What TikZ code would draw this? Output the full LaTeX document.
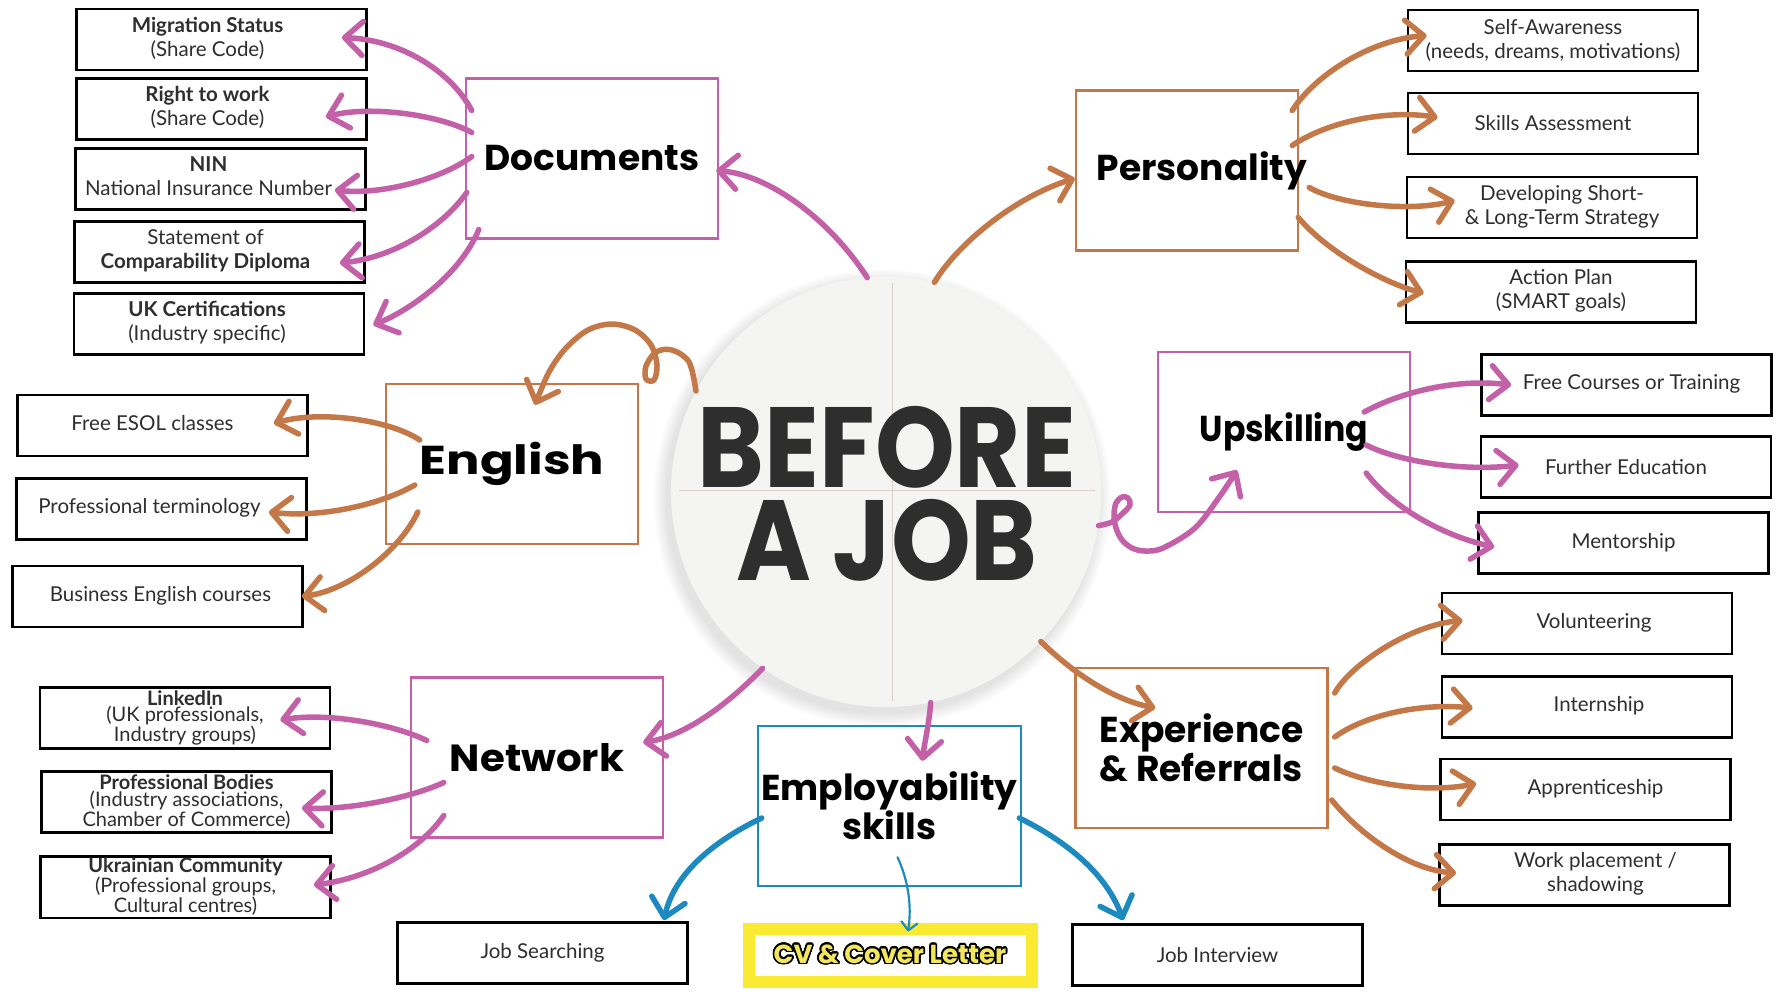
\documentclass[tikz,border=0pt]{standalone}
\usepackage{fontspec}
\setmainfont{Lato}
\newfontfamily\popfont{Poppins}
\usepackage{graphicx}
\usepackage{contour}
\usetikzlibrary{arrows.meta,calc}
\definecolor{pinkc}{HTML}{C460A8}
\definecolor{brownc}{HTML}{C47848}
\definecolor{bluec}{HTML}{1C8AC0}
\definecolor{yellowc}{HTML}{FAEB32}
\definecolor{cvyellow}{HTML}{F2E65A}
\definecolor{txt}{HTML}{2E2E2E}
\definecolor{circfill}{HTML}{F4F4F2}
\definecolor{crossc}{HTML}{DCCFC8}
\contourlength{1.6pt}
\contournumber{24}
\newcommand\shtext[2]{\hspace*{#1}\begin{tabular}{@{}c@{}}#2\end{tabular}}
\begin{document}
\begin{tikzpicture}[x=1pt,y=-1pt,
  leaf/.style={draw=black, line width=2.8pt, fill=white, align=center, text=txt,
    font=\fontsize{20.5}{24}\selectfont, minimum width=290pt, minimum height=61pt, inner sep=2pt},
  leafnet/.style={leaf, font=\fontsize{20}{16.5}\selectfont},
  cat/.style={line width=2.4pt, fill=white, minimum width=252pt, minimum height=160pt,
    font=\popfont\bfseries\fontsize{36}{33}\selectfont, text=black, align=center},
  arr/.style={line width=5.5pt, line cap=round, line join=round,
    -{Straight Barb[length=18pt,width=34pt,round]}},
  thinarr/.style={line width=2.2pt, line cap=round,
    -{Straight Barb[length=8pt,width=16pt,round]}}
]
\fill[white] (0,0) rectangle (1787,995);
\useasboundingbox (0,0) rectangle (1787,995);

% ---- central circle with soft shadow
\foreach \k in {1,...,14}
  \fill[black,opacity=0.009] (882,498) circle ({215+\k});
\node[circle, minimum size=430pt, inner sep=0pt, fill=circfill] (circ) at (886,492) {};
\draw[crossc, line width=0.8pt] ($(circ.west)+(8,-2)$) -- ($(circ.east)+(-6,-2)$);
\draw[crossc, line width=0.8pt] ($(circ.north)+(6,6)$) -- ($(circ.south)+(6,-6)$);
\node[anchor=north, text=txt, inner sep=0pt, align=center,
      font=\popfont\bfseries\fontsize{114}{93}\selectfont] (title) at (887,406)
      {\scalebox{0.89}[1]{BEFORE}\\\scalebox{0.89}[1]{A JOB}};

% ---- category boxes
\node[cat, draw=pinkc] (docs) at (592,158.5) {Documents};
\node[cat, draw=brownc, minimum width=222pt] (pers) at (1187,170.5) {\makebox[0pt][c]{\hspace*{30pt}Personality}};
\node[cat, draw=brownc] (eng) at (512,464) {\scalebox{1.38}[1.12]{English}};
\node[cat, draw=pinkc] (ups) at (1284,432) {\scalebox{0.92}[1]{Upskilling}};
\node[cat, draw=pinkc] (net) at (537,757.5) {\scalebox{1.12}[1.05]{Network}};
\node[cat, draw=bluec] (emp) at (889.5,806) {Employability\\skills};
\node[cat, draw=brownc] (exp) at (1201.5,748) {Experience\\\& Referrals};

% ---- leaf boxes: documents
\node[leaf] (mig) at (221.5,39.5) {\shtext{-28pt}{\textbf{Migration Status}\\(Share Code)}};
\node[leaf] (rtw) at (221.5,109) {\shtext{-28pt}{\textbf{Right to work}\\(Share Code)}};
\node[leaf] (nin) at (220.5,179) {\shtext{-24pt}{\textbf{NIN}\\National Insurance Number}};
\node[leaf] (soc) at (219.5,252) {\shtext{-28pt}{Statement of\\\textbf{Comparability Diploma}}};
\node[leaf] (ukc) at (219,324) {\shtext{-24pt}{\textbf{UK Certifications}\\(Industry specific)}};
% personality
\node[leaf] (self) at (1553,40.5) {Self-Awareness\\(needs, dreams, motivations)};
\node[leaf] (skills) at (1553,123.5) {Skills Assessment};
\node[leaf] (dev) at (1552,207.5) {\shtext{20pt}{Developing Short-\\\& Long-Term Strategy}};
\node[leaf] (action) at (1551,292) {\shtext{20pt}{Action Plan\\(SMART goals)}};
% english
\node[leaf] (esol) at (162.5,425.5) {\shtext{-20pt}{Free ESOL classes}};
\node[leaf] (term) at (161.5,509) {\shtext{-24pt}{Professional terminology}};
\node[leaf] (bus) at (157.5,596.5) {\shtext{6pt}{Business English courses}};
% upskilling
\node[leaf] (free) at (1626.5,385) {\shtext{10pt}{Free Courses or Training}};
\node[leaf] (further) at (1626,467) {Further Education};
\node[leaf] (mentor) at (1623.5,543) {Mentorship};
% network
\node[leafnet] (linkedin) at (185,718) {\textbf{LinkedIn}\\(UK professionals,\\Industry groups)};
\node[leafnet] (bodies) at (186.5,802) {\textbf{Professional Bodies}\\(Industry associations,\\Chamber of Commerce)};
\node[leafnet] (ukr) at (185.5,887) {\textbf{Ukrainian Community}\\(Professional groups,\\Cultural centres)};
% experience
\node[leaf] (vol) at (1587,623.5) {\shtext{14pt}{Volunteering}};
\node[leaf] (intern) at (1587,707) {\shtext{24pt}{Internship}};
\node[leaf] (appr) at (1585.5,789.5) {\shtext{20pt}{Apprenticeship}};
\node[leaf] (work) at (1584.5,875) {\shtext{22pt}{Work placement /\\shadowing}};
% employability
\node[leaf] (jobsearch) at (542.5,953) {Job Searching};
\node[leaf] (interview) at (1217.5,955) {Job Interview};
\node[draw=yellowc, line width=12pt, fill=white, minimum width=283pt, minimum height=53pt,
      font=\popfont\bfseries\fontsize{26}{26}\selectfont] (cv) at (890,955)
      {\contour{black}{\textcolor{cvyellow}{CV \& Cover Letter}}};

% ---- connectors: centre to categories
\draw[arr, pinkc] (circ.95) .. controls (830,220) and (770,175) .. ($(docs.east)+(-3,12)$);
\draw[arr, brownc] (circ.77) .. controls (960,240) and (1020,195) .. ($(pers.west)+(0,8)$);
\coordinate (engtip) at ($(eng.north)+(23,22)$);
\draw[arr, brownc] plot[smooth, tension=0.55] coordinates {(circ.152) (689,362) (672,350) (656,352) (646,366) (646,379) (654,380) (657,365) (651,345) (635,330) (612,324) (588,330) (566,348) (549,372) (engtip)};
\coordinate (upstip) at ($(ups.south)+(-47,-43)$);
\draw[arr, pinkc] plot[smooth, tension=0.55] coordinates {(circ.-9) (1112,522) (1123,513) (1130,505) (1128,498) (1122,497) (1116,503) (1114,515) (1116,528) (1122,540) (1132,548) (1145,551) (1163,548) (1195,528) (1220,496) (upstip)};
\draw[arr, pinkc] (circ.235) .. controls (735,697) and (690,735) .. ($(net.east)+(-21,-15)$);
\draw[arr, pinkc] (circ.-78) .. controls (929,725) and (924,745) .. ($(emp.north)+(33,36)$);
\draw[arr, brownc] (circ.-44) .. controls (1075,675) and (1115,700) .. ($(exp.west)+(81,-40)$);

% ---- documents
\draw[arr, pinkc] ($(docs.west)+(7,-48)$) .. controls (450,70) and (400,40) .. ($(mig.east)+(-26,-2)$);
\draw[arr, pinkc] ($(docs.west)+(7,-26)$) .. controls (440,115) and (370,105) .. ($(rtw.east)+(-42,8)$);
\draw[arr, pinkc] ($(docs.west)+(7,-2)$) .. controls (440,180) and (380,195) .. ($(nin.east)+(-32,11)$);
\draw[arr, pinkc] ($(docs.west)+(2,34)$) .. controls (440,230) and (390,258) .. ($(soc.east)+(-26,11)$);
\draw[arr, pinkc] ($(docs.west)+(14,71)$) .. controls (460,275) and (410,310) .. ($(ukc.east)+(8,1)$);
% ---- personality
\draw[arr, brownc] ($(pers.east)+(-7,-60)$) .. controls (1315,75) and (1370,40) .. ($(self.west)+(20,-5)$);
\draw[arr, brownc] ($(pers.east)+(-7,-25)$) .. controls (1330,120) and (1390,110) .. ($(skills.west)+(31,-6)$);
\draw[arr, brownc] ($(pers.east)+(10,17)$) .. controls (1340,205) and (1410,212) .. ($(dev.west)+(49,-7)$);
\draw[arr, brownc] ($(pers.east)+(-1,47)$) .. controls (1330,255) and (1390,285) .. ($(action.west)+(19,1)$);
% ---- english
\draw[arr, brownc] ($(eng.west)+(35,-24)$) .. controls (390,420) and (320,410) .. ($(esol.east)+(-35,-2)$);
\draw[arr, brownc] ($(eng.west)+(30,21)$) .. controls (380,505) and (320,518) .. ($(term.east)+(-39,3)$);
\draw[arr, brownc] ($(eng.west)+(33,48)$) .. controls (400,550) and (350,590) .. ($(bus.east)+(-2,0)$);
% ---- upskilling
\draw[arr, pinkc] ($(ups.east)+(-47,-20)$) .. controls (1395,395) and (1450,378) .. ($(free.west)+(31,0)$);
\draw[arr, pinkc] ($(ups.east)+(-45,13)$) .. controls (1395,460) and (1460,472) .. ($(further.west)+(39,-2)$);
\draw[arr, pinkc] ($(ups.east)+(-45,41)$) .. controls (1390,505) and (1440,535) .. ($(mentor.west)+(17,4)$);
% ---- network
\draw[arr, pinkc] ($(net.west)+(17,-17)$) .. controls (395,725) and (330,712) .. ($(linkedin.east)+(-51,2)$);
\draw[arr, pinkc] ($(net.west)+(34,25)$) .. controls (410,798) and (350,810) .. ($(bodies.east)+(-31,6)$);
\draw[arr, pinkc] ($(net.west)+(34,58)$) .. controls (420,850) and (370,878) .. ($(ukr.east)+(-18,-2)$);
% ---- employability
\draw[arr, bluec] ($(emp.west)+(5,12)$) .. controls (720,838) and (675,870) .. ($(jobsearch.north east)+(-25,-1)$);
\draw[thinarr, bluec] ($(emp.south)+(8,-30)$) .. controls (908,880) and (912,905) .. ($(cv.north)+(18,9)$);
\draw[arr, bluec] ($(emp.east)+(-3,12)$) .. controls (1060,838) and (1105,870) .. ($(interview.north west)+(52,-3)$);
% ---- experience
\draw[arr, brownc] ($(exp.east)+(6,-55)$) .. controls (1350,665) and (1410,625) .. ($(vol.west)+(22,-3)$);
\draw[arr, brownc] ($(exp.east)+(6,-11)$) .. controls (1365,715) and (1420,703) .. ($(intern.west)+(32,1)$);
\draw[arr, brownc] ($(exp.east)+(6,20)$) .. controls (1370,785) and (1430,793) .. ($(appr.west)+(37,-6)$);
\draw[arr, brownc] ($(exp.east)+(3,52)$) .. controls (1360,835) and (1410,870) .. ($(work.west)+(18,-2)$);
\end{tikzpicture}
\end{document}
